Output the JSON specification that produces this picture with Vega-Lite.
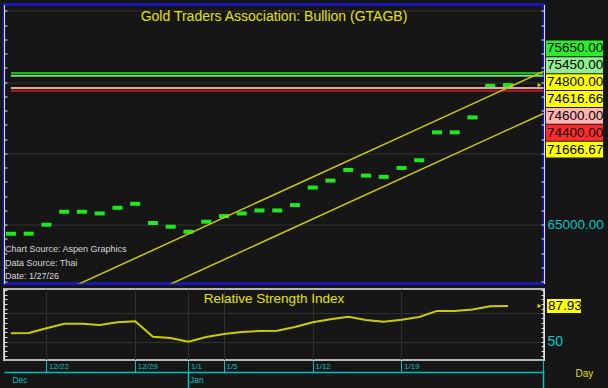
{
  "$schema": "https://vega.github.io/schema/vega-lite/v6.json",
  "background": "#161616",
  "padding": {"left": 2, "top": 1.5, "right": 4, "bottom": 0},
  "spacing": 5.5,
  "bounds": "flush",
  "config": {
    "view": {"stroke": null},
    "font": "Liberation Sans, Arial, sans-serif"
  },
  "datasets": {
    "px": [
      {"date": "12/18", "close": 64371, "rsi": 58.9},
      {"date": "12/19", "close": 64371, "rsi": 59.2},
      {"date": "12/22", "close": 65000, "rsi": 64.3},
      {"date": "12/23", "close": 65909, "rsi": 69.1},
      {"date": "12/24", "close": 65909, "rsi": 69.1},
      {"date": "12/25", "close": 65790, "rsi": 67.8},
      {"date": "12/26", "close": 66189, "rsi": 70.6},
      {"date": "12/29", "close": 66469, "rsi": 71.7},
      {"date": "12/30", "close": 65119, "rsi": 55.3},
      {"date": "12/31", "close": 64860, "rsi": 53.9},
      {"date": "1/1", "close": 64510, "rsi": 50.0},
      {"date": "1/2", "close": 65210, "rsi": 55.0},
      {"date": "1/5", "close": 65608, "rsi": 58.2},
      {"date": "1/6", "close": 65790, "rsi": 60.3},
      {"date": "1/7", "close": 66000, "rsi": 61.4},
      {"date": "1/8", "close": 66000, "rsi": 61.7},
      {"date": "1/9", "close": 66378, "rsi": 65.6},
      {"date": "1/12", "close": 67608, "rsi": 70.6},
      {"date": "1/13", "close": 68098, "rsi": 73.8},
      {"date": "1/14", "close": 68846, "rsi": 76.6},
      {"date": "1/15", "close": 68448, "rsi": 73.1},
      {"date": "1/16", "close": 68357, "rsi": 71.3},
      {"date": "1/19", "close": 68986, "rsi": 73.4},
      {"date": "1/20", "close": 69524, "rsi": 76.3},
      {"date": "1/21", "close": 71483, "rsi": 82.7},
      {"date": "1/22", "close": 71483, "rsi": 82.7},
      {"date": "1/23", "close": 72531, "rsi": 84.3},
      {"date": "1/26", "close": 74750, "rsi": 87.6},
      {"date": "1/27", "close": 74800, "rsi": 87.93}
    ],
    "levels": [
      {"level": 75650},
      {"level": 75450},
      {"level": 74600},
      {"level": 74400}
    ],
    "trend": [
      {"line": "upper", "date": "12/18", "value": 58657},
      {"line": "upper", "date": "1/29", "value": 75757},
      {"line": "lower", "date": "12/18", "value": 55707},
      {"line": "lower", "date": "1/29", "value": 72807}
    ],
    "tags": [
      {"tag": "75650.00"},
      {"tag": "75450.00"},
      {"tag": "74800.00"},
      {"tag": "74616.66"},
      {"tag": "74600.00"},
      {"tag": "74400.00"},
      {"tag": "71666.67"}
    ],
    "rsitag": [{"tag": "87.93"}]
  },
  "vconcat": [
    {
      "width": 540,
      "height": 279,
      "view": {"stroke": "#1818b8", "strokeWidth": 3},
      "title": {
        "text": "Gold Traders Association: Bullion (GTAGB)",
        "offset": -20,
        "anchor": "middle",
        "color": "#e4e400",
        "fontSize": 14,
        "fontWeight": "normal",
        "font": "Liberation Sans, Arial, sans-serif"
      },
      "layer": [
        {
          "layer": [
            {
              "data": {"name": "px"},
              "mark": {"type": "tick", "color": "#1ee81e", "opacity": 1, "thickness": 4, "size": 10},
              "encoding": {
                "x": {
                  "field": "date", "type": "ordinal",
                  "scale": {"type": "point", "domain": ["12/18","12/19","12/22","12/23","12/24","12/25","12/26","12/29","12/30","12/31","1/1","1/2","1/5","1/6","1/7","1/8","1/9","1/12","1/13","1/14","1/15","1/16","1/19","1/20","1/21","1/22","1/23","1/26","1/27","1/28","1/29"], "padding": 0.21, "align": 0.93},
                  "axis": {"values": ["12/22","12/29","1/1","1/5","1/12","1/19"], "grid": true, "gridColor": "#303030", "labels": false, "ticks": false, "domain": false, "title": null}
                },
                "y": {
                  "field": "close", "type": "quantitative",
                  "scale": {"domain": [60874, 80455], "nice": false, "zero": false},
                  "axis": {"orient": "left", "values": [61000,62000,63000,64000,65000,66000,67000,68000,69000,70000,71000,72000,73000,74000,75000,76000,77000,78000,79000,80000], "tickSize": -3, "tickColor": "#e0e0e0", "domainColor": "#e0e0e0", "labels": false, "grid": false, "title": null}
                }
              }
            },
            {
              "data": {"name": "levels"},
              "mark": {"type": "rule", "strokeWidth": 2},
              "encoding": {
                "x": {"datum": "12/18", "type": "ordinal", "axis": null},
                "x2": {"datum": "1/29"},
                "y": {
                  "field": "level", "type": "quantitative",
                  "scale": {"domain": [60874, 80455], "nice": false, "zero": false},
                  "axis": {"orient": "right", "values": [61000,62000,63000,64000,65000,66000,67000,68000,69000,70000,71000,72000,73000,74000,75000,76000,77000,78000,79000,80000], "tickSize": -3, "tickColor": "#e0e0e0", "domainColor": "#e0e0e0", "labelExpr": "datum.value == 65000 ? '65000.00' : ''", "labelColor": "#00c8c8", "labelFontSize": 13.5, "labelPadding": 6, "labelOverlap": false, "labelFlush": false, "grid": true, "gridColor": "#303030", "gridOpacity": {"condition": {"test": "datum.value % 5000 == 0", "value": 1}, "value": 0}, "title": null}
                },
                "color": {"field": "level", "type": "nominal", "scale": {"domain": [75650, 75450, 74600, 74400], "range": ["#1fb41f", "#86d986", "#e0a8a8", "#b42020"]}, "legend": null}
              }
            },
            {
              "data": {"name": "trend"},
              "mark": {"type": "line", "color": "#cccc00", "strokeWidth": 1.5, "clip": true},
              "encoding": {
                "x": {"field": "date", "type": "ordinal", "axis": null},
                "y": {"field": "value", "type": "quantitative", "scale": {"domain": [60874, 80455], "nice": false, "zero": false}, "axis": null},
                "detail": {"field": "line"}
              }
            },
            {
              "data": {"values": [{}]},
              "mark": {"type": "text", "align": "left", "baseline": "top", "dx": -6, "color": "#d8d8d8", "fontSize": 9, "lineHeight": 13.5, "text": ["Chart Source: Aspen Graphics", "Data Source: Thai", "Date: 1/27/26"]},
              "encoding": {
                "x": {"datum": "12/18", "type": "ordinal", "axis": null},
                "y": {"datum": 63550, "type": "quantitative", "scale": {"domain": [60874, 80455], "nice": false, "zero": false}, "axis": null}
              }
            },
            {
              "data": {"name": "px"},
              "transform": [{"filter": "datum.date == '1/27'"}],
              "mark": {"type": "point", "shape": "triangle-right", "filled": true, "color": "#e0e000", "size": 18, "opacity": 1},
              "encoding": {
                "x": {"datum": "1/29", "type": "ordinal", "axis": null},
                "xOffset": {"value": -4},
                "y": {"field": "close", "type": "quantitative", "scale": {"domain": [60874, 80455], "nice": false, "zero": false}, "axis": null}
              }
            }
          ],
          "resolve": {"axis": {"y": "independent"}}
        },
        {
          "data": {"name": "tags"},
          "encoding": {
            "y": {"field": "tag", "type": "nominal", "scale": {"type": "band", "domain": ["75650.00","75450.00","74800.00","74616.66","74600.00","74400.00","71666.67"], "range": [36, 153], "paddingInner": 0.06, "paddingOuter": 0}, "axis": null},
            "x": {"datum": 0, "type": "quantitative", "scale": {"domain": [0, 1], "range": [542, 599]}, "axis": null}
          },
          "layer": [
            {
              "mark": {"type": "rect"},
              "encoding": {
                "x2": {"datum": 1},
                "fill": {"field": "tag", "type": "nominal", "scale": {"domain": ["75650.00","75450.00","74800.00","74616.66","74600.00","74400.00","71666.67"], "range": ["#2aee2a","#90ee90","#ffff00","#ffff00","#ffb4b4","#ff2a2a","#ffff00"]}, "legend": null}
              }
            },
            {
              "mark": {"type": "text", "align": "left", "dx": 1, "color": "#000000", "fontSize": 13.5},
              "encoding": {"text": {"field": "tag"}}
            }
          ]
        }
      ],
      "resolve": {"scale": {"x": "independent", "y": "independent", "color": "independent", "fill": "independent"}}
    },
    {
      "width": 540,
      "height": 71,
      "view": {"stroke": "#b4b4b4", "strokeWidth": 2},
      "title": {
        "text": "Relative Strength Index",
        "offset": -23,
        "anchor": "middle",
        "color": "#e4e400",
        "fontSize": 13.5,
        "fontWeight": "normal",
        "font": "Liberation Sans, Arial, sans-serif"
      },
      "layer": [
        {
          "data": {"name": "px"},
          "layer": [
            {
              "mark": {"type": "line", "color": "#cccc00", "strokeWidth": 2},
              "encoding": {
                "x": {
                  "field": "date", "type": "ordinal",
                  "scale": {"type": "point", "domain": ["12/18","12/19","12/22","12/23","12/24","12/25","12/26","12/29","12/30","12/31","1/1","1/2","1/5","1/6","1/7","1/8","1/9","1/12","1/13","1/14","1/15","1/16","1/19","1/20","1/21","1/22","1/23","1/26","1/27","1/28","1/29"], "padding": 0.21, "align": 0.93},
                  "axis": {"orient": "bottom", "values": ["12/22","12/29","1/1","1/5","1/12","1/19","1/29"], "grid": true, "gridColor": "#303030", "gridOpacity": {"condition": {"test": "datum.value == '1/29'", "value": 0}, "value": 1}, "domainColor": "#b8b8b8", "tickColor": "#00c0c0", "tickSize": 12, "labelExpr": "datum.value == '1/29' ? '' : datum.value", "labelColor": "#00c0c0", "labelFontSize": 8, "labelAlign": "left", "labelBaseline": "middle", "labelPadding": -6, "labelOffset": 2, "labelAngle": 0, "labelOverlap": false, "labelFlush": false, "title": null}
                },
                "y": {
                  "field": "rsi", "type": "quantitative",
                  "scale": {"domain": [30.5, 106], "nice": false, "zero": false},
                  "axis": {"orient": "right", "values": [35,40,45,50,55,60,65,70,75,80,85,90,95,100,105], "tickSize": -3, "tickColor": "#e0e0e0", "domainColor": "#e0e0e0", "labelExpr": "datum.value == 50 ? '50' : ''", "labelColor": "#00c8c8", "labelFontSize": 14, "labelPadding": 6, "labelOverlap": false, "labelFlush": false, "grid": true, "gridColor": "#303030", "gridOpacity": {"condition": {"test": "datum.value == 50 || datum.value == 80", "value": 1}, "value": 0}, "title": null}
                }
              }
            },
            {
              "transform": [{"filter": "datum.date == '1/27'"}],
              "mark": {"type": "point", "shape": "triangle-right", "filled": true, "color": "#e0e000", "size": 18, "opacity": 1},
              "encoding": {
                "x": {
                  "datum": "1/29", "type": "ordinal",
                  "axis": {"orient": "bottom", "offset": 12, "values": ["12/18","1/1","1/29"], "grid": false, "domainColor": "#00c0c0", "domainWidth": 1.5, "tickColor": "#00c0c0", "tickSize": 16, "tickWidth": 1.5, "tickOpacity": {"condition": {"test": "datum.value == '12/18'", "value": 0}, "value": 1}, "labelExpr": "datum.value == '12/18' ? 'Dec' : datum.value == '1/1' ? 'Jan' : ''", "labelColor": "#00c0c0", "labelFontSize": 8.5, "labelAlign": "left", "labelBaseline": "middle", "labelPadding": -9, "labelOffset": 1, "labelAngle": 0, "labelOverlap": false, "labelFlush": false, "title": "Day", "titleColor": "#e0e000", "titleFontSize": 10, "titleFontWeight": "normal", "titleX": 571, "titleY": 1, "titleAlign": "left", "titleBaseline": "middle"}
                },
                "xOffset": {"value": -4},
                "y": {
                  "field": "rsi", "type": "quantitative",
                  "scale": {"domain": [30.5, 106], "nice": false, "zero": false},
                  "axis": {"orient": "left", "values": [35,40,45,50,55,60,65,70,75,80,85,90,95,100,105], "tickSize": -3, "tickColor": "#e0e0e0", "domainColor": "#e0e0e0", "labels": false, "grid": false, "title": null}
                }
              }
            }
          ],
          "resolve": {"axis": {"x": "independent", "y": "independent"}}
        },
        {
          "data": {"name": "rsitag"},
          "encoding": {
            "y": {"field": "tag", "type": "nominal", "scale": {"type": "band", "domain": ["87.93"], "range": [10, 24], "paddingInner": 0, "paddingOuter": 0}, "axis": null},
            "x": {"datum": 0, "type": "quantitative", "scale": {"domain": [0, 1], "range": [543, 577]}, "axis": null}
          },
          "layer": [
            {"mark": {"type": "rect", "color": "#ffff00"}, "encoding": {"x2": {"datum": 1}}},
            {"mark": {"type": "text", "align": "left", "dx": 1, "color": "#000000", "fontSize": 13.5}, "encoding": {"text": {"field": "tag"}}}
          ]
        }
      ],
      "resolve": {"scale": {"x": "independent", "y": "independent"}}
    }
  ]
}
